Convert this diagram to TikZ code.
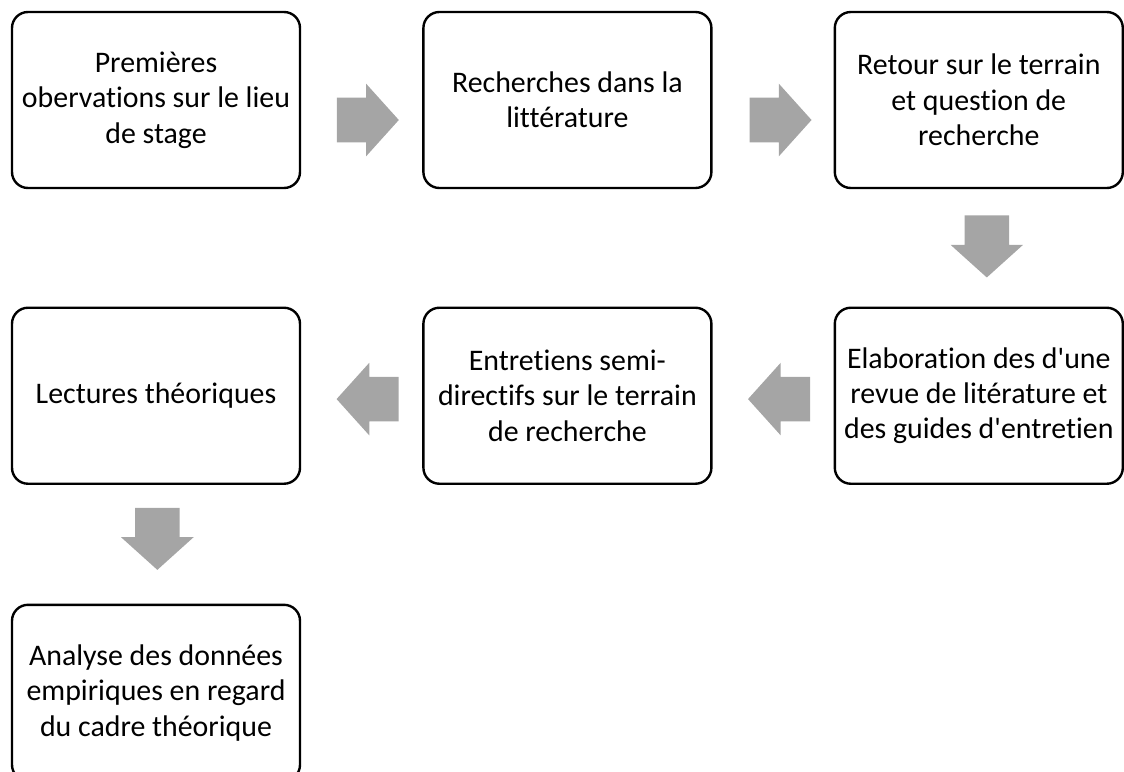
\documentclass[tikz,border=0pt]{standalone}
\usepackage{fontspec}
\setmainfont{Carlito}[Ligatures={TeXOff,NoCommon}]
\usetikzlibrary{positioning,calc,shapes.arrows}
\definecolor{flechegris}{HTML}{A5A5A5}

\begin{document}
\begin{tikzpicture}[node distance=88pt and 90.75pt,font=\fontsize{22.4}{26.5}\selectfont,
    etape/.style={draw,line width=1.8pt,rounded corners=12pt,minimum width=216pt,minimum height=132pt,align=center,inner sep=0pt},
    fleche/.style={single arrow,fill=flechegris,draw=none,anchor=tail,inner xsep=0pt,inner ysep=16.5pt,minimum height=46.5pt,single arrow head extend=10.5pt,single arrow tip angle=96}]
    \useasboundingbox (0,0) rectangle (843pt,-578.25pt);

    % ligne du haut
    \node[etape] (B1) at (117pt,-75pt) {Premières\\obervations sur le lieu\\de stage};
    \node[etape,right=of B1] (B2) {Recherches dans la\\littérature};
    \node[etape,right=of B2] (B3) {Retour sur le terrain\\et question de\\recherche};

    % ligne du milieu
    \node[etape,below=of B3] (B4) {Elaboration des d'une\\revue de litérature et\\des guides d'entretien};
    \node[etape,below=of B2] (B5) {Entretiens semi-\\directifs sur le terrain\\de recherche};
    \node[etape,below=of B1] (B6) {Lectures théoriques};

    % ligne du bas
    \node[etape,below=89pt of B6] (B7) {Analyse des données\\empiriques en regard\\du cadre théorique};

    % fleches
    \node[fleche] (A1) at ($(B1.east)+(26.5pt,-15pt)$) {};
    \node[fleche] (A2) at ($(B2.east)+(27.5pt,-15pt)$) {};
    \node[fleche,rotate=-90] (A3) at ($(B3.south)+(6pt,-19.5pt)$) {};
    \node[fleche,rotate=180] (A4) at ($(B4.west)+(-17.5pt,-2.5pt)$) {};
    \node[fleche,rotate=180] (A5) at ($(B5.west)+(-17.5pt,-2.5pt)$) {};
    \node[fleche,rotate=-90] (A6) at ($(B6.south)+(1pt,-17pt)$) {};
\end{tikzpicture}
\end{document}
